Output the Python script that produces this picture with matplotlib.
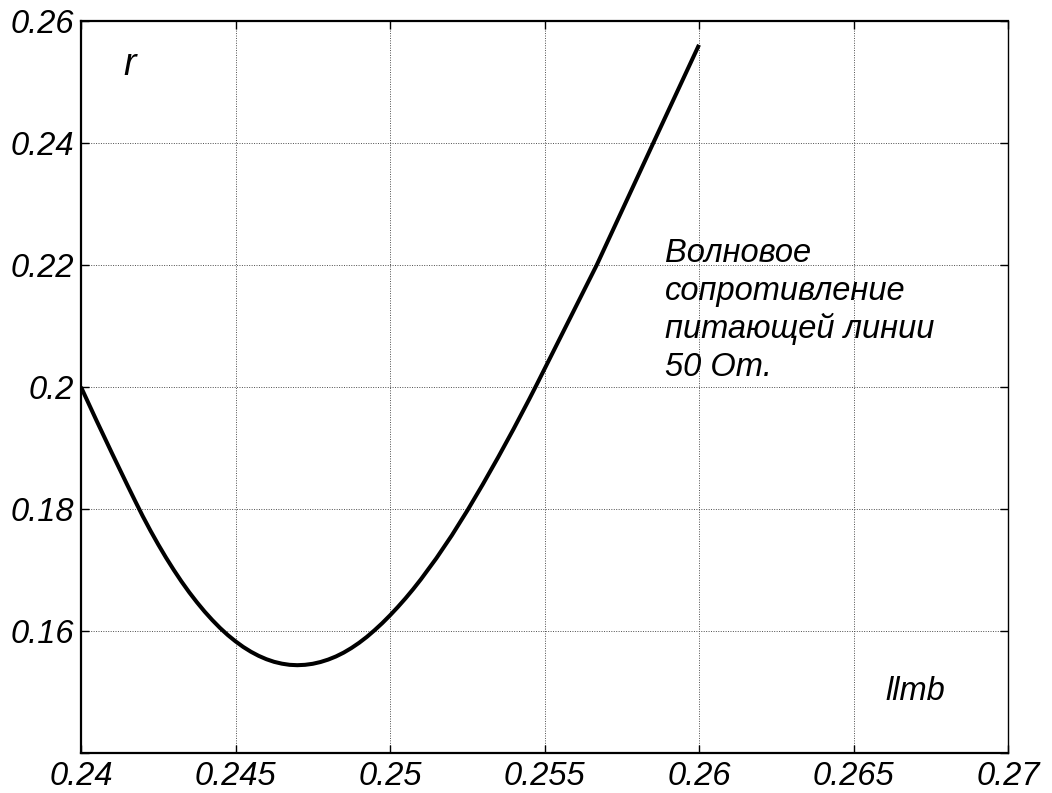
import matplotlib
matplotlib.use("Agg")
import matplotlib.pyplot as plt

# Normalised line length l/lambda and resistance r
l_lmb = [0.24000, 0.24050, 0.24100, 0.24150, 0.24175, 0.24200, 0.24225,
         0.24250, 0.24275, 0.24300, 0.24325, 0.24350, 0.24375, 0.24400,
         0.24425, 0.24450, 0.24475, 0.24500, 0.24525, 0.24550, 0.24575,
         0.24600, 0.24625, 0.24650, 0.24675, 0.24700, 0.24725, 0.24750,
         0.24775, 0.24800, 0.24825, 0.24850, 0.24875, 0.24900, 0.24925,
         0.24950, 0.24975, 0.25000, 0.25025, 0.25050, 0.25075, 0.25100,
         0.25150, 0.25200, 0.25250, 0.25300, 0.25350, 0.25400, 0.25450,
         0.25475, 0.25669, 0.25852, 0.26000]
r_vals = [0.20000, 0.19452, 0.18917, 0.18392, 0.18134, 0.17881, 0.17643,
          0.17418, 0.17204, 0.17003, 0.16813, 0.16636, 0.16472, 0.16319,
          0.16179, 0.16050, 0.15934, 0.15831, 0.15739, 0.15660, 0.15593,
          0.15538, 0.15495, 0.15465, 0.15446, 0.15440, 0.15446, 0.15463,
          0.15492, 0.15532, 0.15583, 0.15646, 0.15721, 0.15807, 0.15904,
          0.16013, 0.16130, 0.16257, 0.16392, 0.16535, 0.16687, 0.16848,
          0.17193, 0.17568, 0.17973, 0.18402, 0.18849, 0.19313, 0.19795,
          0.20043, 0.22000, 0.24000, 0.25610]

x_ticks = [0.24, 0.245, 0.25, 0.255, 0.26, 0.265, 0.27]
x_labels = ["0.24", "0.245", "0.25", "0.255", "0.26", "0.265", "0.27"]
y_ticks = [0.14, 0.16, 0.18, 0.20, 0.22, 0.24, 0.26]
y_labels = ["", "0.16", "0.18", "0.2", "0.22", "0.24", "0.26"]

note_lines = ["Волновое", "сопротивление", "питающей линии", "50 Om."]

FONT = "Liberation Sans"
FS = 23.5

fig = plt.figure(figsize=(10.52, 7.93), dpi=100)
ax = fig.add_axes([0.0770, 0.0504, 0.8812, 0.9231])

ax.plot(l_lmb, r_vals, color="black", linewidth=2.9,
        solid_joinstyle="round", solid_capstyle="butt")

ax.set_xlim(0.24, 0.27)
ax.set_ylim(0.14, 0.26)
ax.set_xticks(x_ticks)
ax.set_xticklabels(x_labels, fontfamily=FONT, fontstyle="italic", fontsize=FS)
ax.set_yticks(y_ticks)
ax.set_yticklabels(y_labels, fontfamily=FONT, fontstyle="italic", fontsize=FS)

ax.tick_params(axis="both", which="major", direction="in", length=6, width=1,
               top=True, right=True, color="black")
ax.tick_params(axis="x", pad=6)
ax.tick_params(axis="y", pad=5)

ax.grid(True, color="0.3", linestyle=(0, (1, 1.5)), linewidth=0.7)
ax.set_axisbelow(True)

for side in ["left", "bottom", "top"]:
    ax.spines[side].set_linewidth(1.6)
ax.spines["right"].set_linewidth(1.0)

ax.text(0.24136, 0.25113, "r", fontfamily=FONT, fontstyle="italic",
        fontsize=27, ha="left", va="baseline")
ax.text(0.26602, 0.14865, "llmb", fontfamily=FONT, fontstyle="italic",
        fontsize=FS, ha="left", va="baseline")

for i, line in enumerate(note_lines):
    ax.annotate(line, xy=(0.2589, 0.22044), xytext=(0, -27.2 * i),
                textcoords="offset points", fontfamily=FONT,
                fontstyle="italic", fontsize=FS, ha="left", va="baseline")

fig.savefig("out.png", dpi=100)
